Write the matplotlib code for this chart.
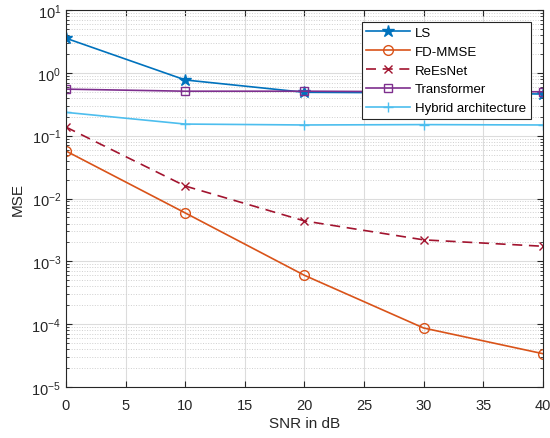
import numpy as np
import matplotlib.pyplot as plt
from matplotlib.ticker import LogLocator, NullFormatter, MultipleLocator

plt.rcParams['font.family'] = ['Liberation Sans', 'DejaVu Sans']

# data
snr = [0, 10, 20, 30, 40]
mse_ls = [3.55, 0.77, 0.49, 0.48, 0.46]
mse_fdmmse = [0.057, 0.0059, 0.0006, 8.7e-5, 3.4e-5]
mse_reesnet = [0.137, 0.0158, 0.0044, 0.0022, 0.00174]
mse_transformer = [0.55, 0.51, 0.51, 0.50, 0.50]
mse_hybrid = [0.235, 0.153, 0.148, 0.150, 0.148]

fig = plt.figure(figsize=(5.5, 4.39), dpi=100)
ax = fig.add_axes([0.12, 0.116, 0.867, 0.859])

ax.semilogy(snr, mse_ls, '-*', color='#0072BD', ms=9, mfc='#0072BD', lw=1.2, label='LS')
ax.semilogy(snr, mse_fdmmse, '-o', color='#D95319', ms=7, mfc='none', lw=1.2, label='FD-MMSE')
ax.semilogy(snr, mse_reesnet, '--x', color='#A2142F', ms=6, lw=1.2, dashes=(6, 4), label='ReEsNet')
ax.semilogy(snr, mse_transformer, '-s', color='#7E2F8E', ms=6, mfc='none', lw=1.2, label='Transformer')
ax.semilogy(snr, mse_hybrid, '-+', color='#4DBEEE', ms=7, lw=1.2, label='Hybrid architecture')

ax.set_xlim(0, 40)
ax.set_ylim(1e-5, 10)
ax.xaxis.set_major_locator(MultipleLocator(5))
ax.yaxis.set_major_locator(LogLocator(base=10, numticks=10))
ax.yaxis.set_minor_locator(LogLocator(base=10, subs=np.arange(2, 10), numticks=10))
ax.yaxis.set_minor_formatter(NullFormatter())

ax.grid(True, which='major', color='#dcdcdc', lw=0.8)
ax.grid(True, which='minor', axis='y', color='#cfcfcf', ls=':', lw=0.7)
ax.set_axisbelow(True)
ax.tick_params(which='both', direction='in', top=True, right=True, labelsize=10.5, colors='#262626')
ax.tick_params(which='major', length=4.5)
ax.tick_params(which='minor', length=2.5)
ax.tick_params(axis='x', which='major', pad=8)
for s in ax.spines.values():
    s.set_color('#262626')
    s.set_linewidth(0.8)

ax.set_xlabel('SNR in dB', fontsize=11, color='#262626', labelpad=3)
ax.set_ylabel('MSE', fontsize=11, color='#262626', labelpad=5)

leg = ax.legend(loc='upper right', bbox_to_anchor=(0.975, 0.968), fontsize=9.5, fancybox=False,
                edgecolor='#262626', framealpha=1, handlelength=3.3, borderpad=0.35,
                labelspacing=0.5, handletextpad=0.4, borderaxespad=0)
leg.get_frame().set_linewidth(0.8)

fig.savefig('out.png', dpi=100)
